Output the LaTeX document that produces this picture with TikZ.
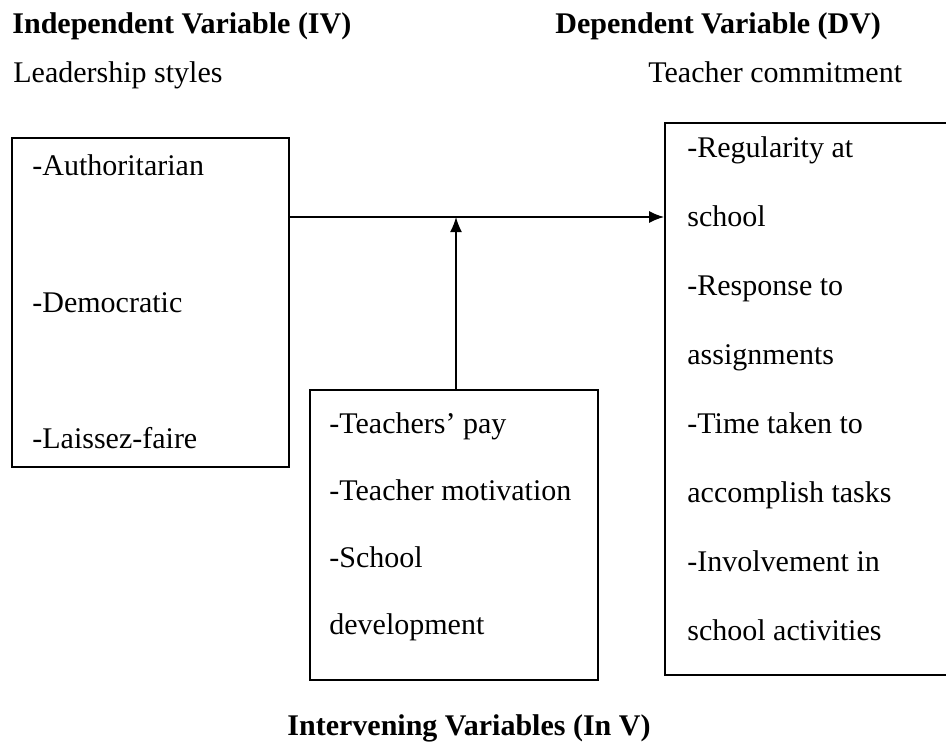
\documentclass[tikz,border=0pt]{standalone}
\usepackage{fontspec}
\setmainfont{Liberation Serif}
\usepackage{tikz}
\usetikzlibrary{arrows.meta}
\usetikzlibrary{fit}

\begin{document}
\begin{tikzpicture}[x=0.5pt,y=-0.5pt,
    box/.style={draw,line width=0.9pt,inner sep=0pt},
    item/.style={anchor=base west,inner sep=0pt,font=\fontsize{15}{18}\selectfont},
    head/.style={anchor=base west,inner sep=0pt,font=\fontsize{15}{18}\selectfont\bfseries},
    link/.style={line width=0.8pt,-{Latex[length=7.5pt,width=6pt]}}]
  \useasboundingbox (0,0) rectangle (946,744);
  % headings
  \node[head] (ivh) at (12,33) {Independent Variable (IV)};
  \node[head] (dvh) at (555,33) {Dependent Variable (DV)};
  \node[item] (ivs) at (13,82) {Leadership styles};
  \node[item] (dvs) at (648,82) {Teacher commitment};
  \node[head,anchor=base] (invh) at (469,735) {Intervening Variables (In V)};
  % boxes
  \node[box,fit={(12,138) (289,467)}] (iv) {};
  \node[box,fit={(665,123) (950,675)}] (dv) {};
  \node[box,fit={(310,390) (598,680)}] (inv) {};
  % box texts
  \node[item] (iv1) at (32,175) {-Authoritarian};
  \node[item] (iv2) at (32,312) {-Democratic};
  \node[item] (iv3) at (32,448) {-Laissez-faire};
  \foreach \t [count=\i] in {-Teachers’ pay,-Teacher motivation,-School,development}
    \node[item] (inv\i) at (329,366+67*\i) {\t};
  \foreach \t [count=\i] in {-Regularity at,school,-Response to,assignments,
      -Time taken to,accomplish tasks,-Involvement in,school activities}
    \node[item] (dv\i) at (687,88+69*\i) {\t};
  % connectors
  \coordinate (mid) at (456,217);
  \draw[link] (iv.east |- mid) -- (dv.west |- mid);
  \draw[link] (inv.north -| mid) -- (mid);
\end{tikzpicture}
\end{document}
